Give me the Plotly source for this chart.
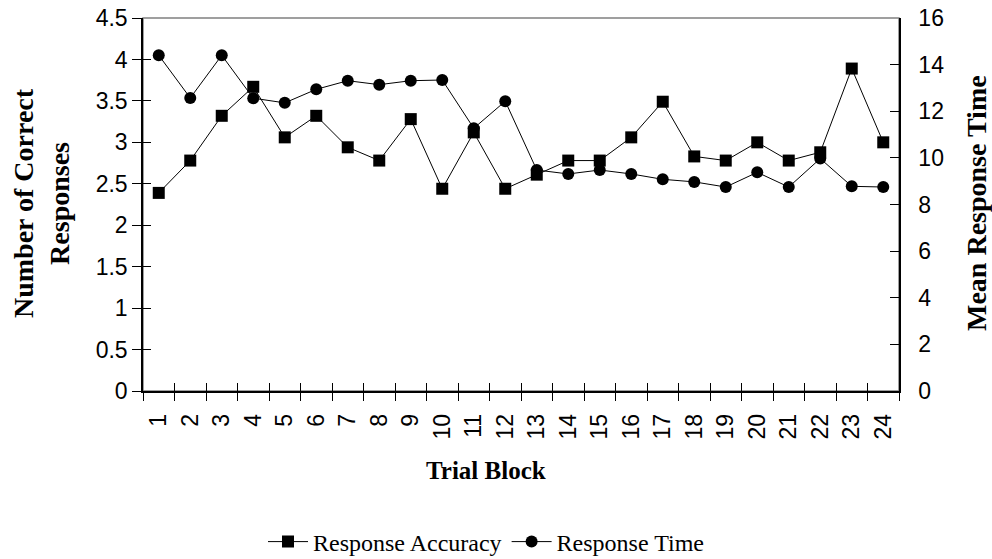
import plotly.graph_objects as go

trial_blocks = list(range(1, 25))
tick_labels = [str(b) for b in trial_blocks]
accuracy = [2.39, 2.78, 3.32, 3.67, 3.06, 3.32, 2.94, 2.78, 3.28, 2.44, 3.12, 2.44,
            2.61, 2.78, 2.78, 3.06, 3.49, 2.83, 2.78, 3.00, 2.78, 2.88, 3.89, 3.00]
response_time = [14.4, 12.57, 14.4, 12.56, 12.36, 12.94, 13.31, 13.14, 13.31, 13.34, 11.27, 12.43,
                 9.48, 9.31, 9.48, 9.31, 9.08, 8.97, 8.75, 9.38, 8.75, 9.97, 8.78, 8.75]
left_ticks = [0, 0.5, 1, 1.5, 2, 2.5, 3, 3.5, 4, 4.5]
right_ticks = [0, 2, 4, 6, 8, 10, 12, 14, 16]

boundaries = [b - 0.5 for b in trial_blocks] + [trial_blocks[-1] + 0.5]
xr = [trial_blocks[0] - 0.5, trial_blocks[-1] + 0.5]

TICKFONT = dict(family="Liberation Sans, Arial, sans-serif", size=23, color="black")
SERIF = "Liberation Serif, Times New Roman, serif"

fig = go.Figure()
fig.add_trace(go.Scatter(
    x=trial_blocks, y=accuracy, name="Response Accuracy", mode="lines+markers",
    line=dict(color="black", width=1), marker=dict(symbol="square", size=12, color="black"),
    xaxis="x", yaxis="y"))
fig.add_trace(go.Scatter(
    x=trial_blocks, y=response_time, name="Response Time", mode="lines+markers",
    line=dict(color="black", width=1), marker=dict(symbol="circle", size=12, color="black"),
    xaxis="x", yaxis="y2"))
# empty helper traces so the tick-only overlay axes are drawn
fig.add_trace(go.Scatter(x=[], y=[], xaxis="x2", yaxis="y3", showlegend=False, hoverinfo="skip"))
fig.add_trace(go.Scatter(x=[], y=[], xaxis="x3", yaxis="y3", showlegend=False, hoverinfo="skip"))

fig.update_layout(
    width=992, height=559,
    margin=dict(l=143, r=93, t=18, b=168, autoexpand=False),
    paper_bgcolor="white", plot_bgcolor="white",
    showlegend=True,
    legend=dict(orientation="h", xref="container", yref="container",
                x=486 / 992, xanchor="center", y=1 - 542 / 559, yanchor="middle",
                font=dict(family=SERIF, size=24, color="black"), itemwidth=40,
                bgcolor="rgba(0,0,0,0)"),
    xaxis=dict(range=xr, tickmode="array", tickvals=trial_blocks, ticktext=tick_labels,
               tickangle=-90, ticks="", showgrid=False, zeroline=False, showline=True,
               linecolor="black", linewidth=1.5, tickfont=TICKFONT, ticklabelstandoff=12,
               anchor="y", automargin=False),
    xaxis2=dict(range=xr, overlaying="x", anchor="y", tickmode="array", tickvals=boundaries,
                ticks="outside", ticklen=9, tickcolor="black", tickwidth=1,
                showticklabels=False, showgrid=False, zeroline=False, showline=False,
                automargin=False),
    xaxis3=dict(range=xr, overlaying="x", anchor="y", tickmode="array", tickvals=boundaries,
                ticks="inside", ticklen=8, tickcolor="black", tickwidth=1,
                showticklabels=False, showgrid=False, zeroline=False, showline=False,
                automargin=False),
    yaxis=dict(range=[0, 4.5], tickmode="array", tickvals=left_ticks,
               ticktext=[f"{v:g}" for v in left_ticks],
               ticks="outside", ticklen=9, tickcolor="black", showgrid=False, zeroline=False,
               showline=True, linecolor="black", linewidth=1.5, tickfont=TICKFONT,
               automargin=False),
    yaxis2=dict(range=[0, 16], overlaying="y", side="right", anchor="x", tickmode="array",
                tickvals=right_ticks, ticks="inside", ticklen=9, tickcolor="black",
                showgrid=False, zeroline=False, showline=True, linecolor="black",
                linewidth=1.5, tickfont=TICKFONT, ticklabelstandoff=13, automargin=False),
    yaxis3=dict(range=[0, 4.5], overlaying="y", side="left", anchor="x", tickmode="array",
                tickvals=left_ticks, ticks="inside", ticklen=8, tickcolor="black",
                showticklabels=False, showgrid=False, zeroline=False, showline=False,
                automargin=False),
    shapes=[dict(type="rect", xref="paper", yref="paper", x0=0, x1=1, y0=0, y1=1,
                 line=dict(color="#808080", width=1.5), layer="below")],
    annotations=[
        dict(text="<b>Trial Block</b>", xref="paper", yref="paper",
             x=(486 - 143) / 756, y=(391 - 471) / 373, xanchor="center", yanchor="middle",
             showarrow=False, font=dict(family=SERIF, size=25, color="black")),
        dict(text="<b>Number of Correct<br>Responses</b>", xref="paper", yref="paper",
             x=(41 - 143) / 756, y=(391 - 203) / 373, xanchor="center", yanchor="middle",
             textangle=-90, showarrow=False,
             font=dict(family=SERIF, size=28, color="black")),
        dict(text="<b>Mean Response Time</b>", xref="paper", yref="paper",
             x=(976 - 143) / 756, y=(391 - 203) / 373, xanchor="center", yanchor="middle",
             textangle=-90, showarrow=False,
             font=dict(family=SERIF, size=28, color="black")),
    ],
)

fig.write_html("out.html")
